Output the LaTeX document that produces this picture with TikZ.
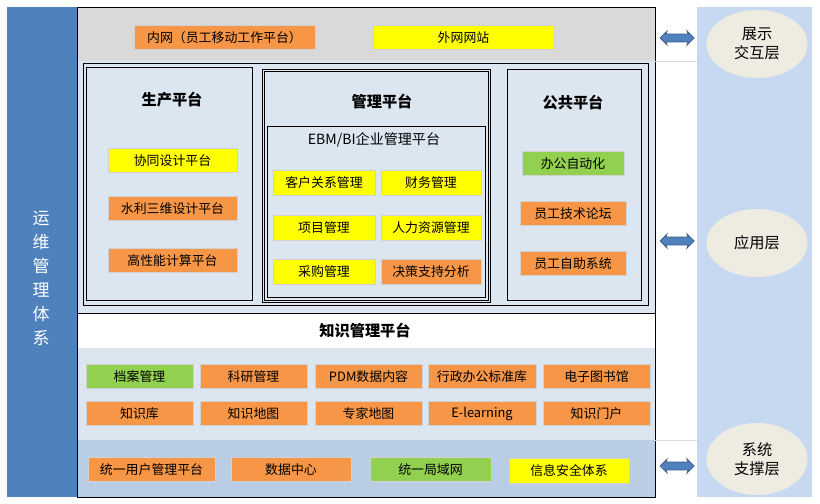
\documentclass[tikz,border=0pt]{standalone}
\usepackage{fontspec}
\setmainfont{Noto Sans CJK SC}
\usetikzlibrary{shapes.geometric,shapes.arrows}
\definecolor{org}{HTML}{F79646}
\definecolor{ylw}{HTML}{FFFF00}
\definecolor{grn}{HTML}{92D050}
\definecolor{blu}{HTML}{4F81BD}
\definecolor{lbl}{HTML}{DCE6F1}
\definecolor{dbl}{HTML}{B9CDE5}
\definecolor{rbl}{HTML}{C6D9F1}
\definecolor{gry}{HTML}{D9D9D9}
\definecolor{bge}{HTML}{EEECE1}
\begin{document}
\begin{tikzpicture}[x=0.03cm,y=-0.03cm,line width=0.6pt,
  box/.style={draw=black!18, line width=0.8pt, minimum width=#1*0.03cm, minimum height=0.74cm, inner sep=0pt, font=\fontsize{11}{13}\selectfont},
  ttl/.style={font=\fontsize{13}{15}\selectfont\bfseries},
  lyr/.style={ellipse, fill=bge, minimum width=3.03cm, minimum height=2.04cm, align=center, font=\fontsize{13}{16}\selectfont},
  darr/.style={double arrow, fill=blu, draw=blu!70!black, line width=0.6pt, minimum height=1.02cm, inner sep=3.1pt, double arrow head extend=2.6pt, double arrow head indent=1pt}]
\useasboundingbox (0,0) rectangle (820,503);
\fill[blu] (7,7) rectangle (77,497);
\fill[gry] (77,7) rectangle (655,61);
\fill[lbl] (77,61) rectangle (655,313);
\fill[white] (77,313) rectangle (655,348);
\fill[lbl] (77,348) rectangle (655,440);
\fill[dbl] (77,440) rectangle (655,497);
\fill[rbl] (697,7) rectangle (812,497);
\draw (77,313) -- (655,313);
\draw (77,7) rectangle (655,497);
\draw (83,63) rectangle (648,305);
\draw (86,67) rectangle (252,300);
\draw (262,69) rectangle (490,302);
\draw (264,71) rectangle (488,300);
\draw (507,69) rectangle (641,300);
\draw (267,126) rectangle (485,297);
\draw[black!15] (655,61) -- (697,61) (655,440) -- (697,440);
\node[text=white, align=center, font=\fontsize{14.5}{20.5}\selectfont] (ops) at (41,278) {运\\维\\管\\理\\体\\系};
\node[box=181, fill=org] (intra) at (224.5,37.5) {内网（员工移动工作平台）};
\node[box=181, fill=ylw] (extra) at (463.5,37.5) {外网网站};
\node[ttl] (prod) at (172,100) {生产平台};
\node[box=129, fill=ylw] (cosd) at (172.5,160.5) {协同设计平台};
\node[box=129, fill=org] (hydro) at (172.5,208.5) {水利三维设计平台};
\node[box=129, fill=org] (hpc) at (172.5,260.5) {高性能计算平台};
\node[ttl] (mgmt) at (382,102) {管理平台};
\node[font=\fontsize{12}{14}\selectfont] (ebm) at (374,140) {EBM/BI企业管理平台};
\node[box=102, fill=ylw] (crm) at (324,183) {客户关系管理};
\node[box=100, fill=ylw] (fin) at (431,183) {财务管理};
\node[box=102, fill=ylw] (prj) at (324,228) {项目管理};
\node[box=100, fill=ylw] (hr) at (431,228) {人力资源管理};
\node[box=102, fill=ylw] (pur) at (324,272) {采购管理};
\node[box=100, fill=org] (dss) at (431,272) {决策支持分析};
\node[ttl] (pub) at (573,103) {公共平台};
\node[box=102, fill=grn] (oa) at (573,163.5) {办公自动化};
\node[box=106, fill=org] (forum) at (573,213.5) {员工技术论坛};
\node[box=106, fill=org] (self) at (573,263.5) {员工自助系统};
\node[ttl] (know) at (365,331) {知识管理平台};
\node[box=107, fill=grn] (arch) at (139.5,376.5) {档案管理};
\node[box=107, fill=org] (res) at (253.5,376.5) {科研管理};
\node[box=107, fill=org] (pdm) at (368.5,376.5) {PDM数据内容};
\node[box=108, fill=org] (std) at (482,376.5) {行政办公标准库};
\node[box=107, fill=org] (lib) at (596.5,376.5) {电子图书馆};
\node[box=107, fill=org] (kb) at (139.5,413.5) {知识库};
\node[box=107, fill=org] (kmap) at (253.5,413.5) {知识地图};
\node[box=107, fill=org] (emap) at (368.5,413.5) {专家地图};
\node[box=108, fill=org] (elrn) at (482,413.5) {E-learning};
\node[box=107, fill=org] (portal) at (596.5,413.5) {知识门户};
\node[box=127, fill=org] (uum) at (151.5,469.5) {统一用户管理平台};
\node[box=120, fill=org] (dc) at (291,469.5) {数据中心};
\node[box=121, fill=grn] (lan) at (430.5,469.5) {统一局域网};
\node[box=120, fill=ylw] (sec) at (569,471) {信息安全体系};
\node[darr] (a1) at (677,38) {};
\node[darr] (a2) at (677,241) {};
\node[darr] (a3) at (677,466) {};
\node[lyr] (show) at (757,44) {展示\\交互层};
\node[lyr] (app) at (757,243) {应用层};
\node[lyr, minimum height=2.16cm] (sys) at (757,459) {系统\\支撑层};
\end{tikzpicture}
\end{document}
